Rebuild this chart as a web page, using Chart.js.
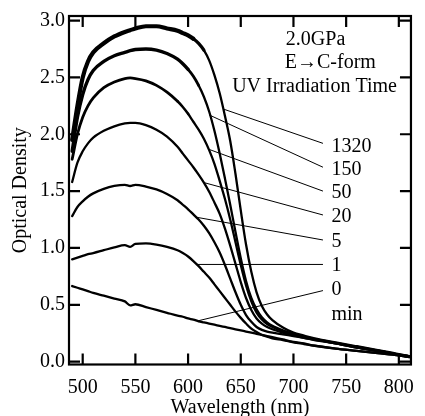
<!DOCTYPE html>
<html>
<head>
<meta charset="utf-8">
<script src="https://cdn.jsdelivr.net/npm/chart.js@4"></script>
<style>
html,body{margin:0;padding:0;background:#fff;}
canvas{display:block;}
</style>
</head>
<body>
<canvas id="c" width="425" height="416"></canvas>
<script>
// ---- data ----
const wavelength = [490,495,500,505,510,520,530,540,545,550,560,570,580,590,595,600,605,610,615,620,625,630,635,640,645,650,655,660,665,670,675,680,690,700,710,720,740,760,780,800,810];

const od0    = [0.665,0.65,0.635,0.62,0.605,0.58,0.555,0.53,0.495,0.505,0.48,0.455,0.43,0.405,0.395,0.38,0.37,0.355,0.345,0.335,0.325,0.315,0.305,0.295,0.285,0.275,0.265,0.255,0.245,0.235,0.225,0.215,0.195,0.175,0.16,0.14,0.115,0.095,0.075,0.055,0.04];
const od1    = [0.90,0.915,0.93,0.945,0.955,0.98,1.005,1.025,1.01,1.035,1.04,1.03,1.01,0.98,0.955,0.925,0.885,0.84,0.79,0.74,0.68,0.62,0.56,0.50,0.44,0.385,0.335,0.29,0.26,0.235,0.22,0.205,0.19,0.17,0.155,0.14,0.115,0.095,0.075,0.055,0.04];
const od5    = [1.28,1.36,1.41,1.45,1.48,1.52,1.545,1.555,1.545,1.555,1.54,1.515,1.475,1.42,1.38,1.34,1.295,1.25,1.195,1.13,1.05,0.96,0.85,0.73,0.61,0.50,0.41,0.35,0.305,0.28,0.265,0.255,0.24,0.225,0.21,0.19,0.16,0.125,0.095,0.06,0.045];
const od20   = [1.58,1.75,1.85,1.92,1.97,2.03,2.07,2.095,2.10,2.10,2.08,2.04,1.98,1.89,1.83,1.77,1.71,1.645,1.575,1.495,1.40,1.30,1.17,1.02,0.86,0.70,0.56,0.455,0.38,0.335,0.305,0.285,0.255,0.23,0.21,0.195,0.16,0.125,0.095,0.06,0.045];
const od50   = [1.78,2.0,2.15,2.25,2.32,2.41,2.46,2.49,2.495,2.49,2.47,2.43,2.37,2.29,2.24,2.18,2.11,2.04,1.96,1.86,1.74,1.59,1.43,1.25,1.05,0.85,0.67,0.53,0.43,0.37,0.33,0.305,0.265,0.235,0.215,0.195,0.16,0.125,0.095,0.06,0.045];
const od150  = [1.85,2.15,2.35,2.48,2.56,2.64,2.69,2.72,2.735,2.745,2.75,2.74,2.71,2.66,2.62,2.57,2.51,2.43,2.33,2.2,2.03,1.83,1.61,1.38,1.14,0.91,0.71,0.56,0.46,0.39,0.345,0.315,0.275,0.245,0.22,0.2,0.165,0.13,0.095,0.06,0.045];
const od1320 = [1.95,2.25,2.5,2.64,2.72,2.8,2.86,2.9,2.915,2.93,2.95,2.95,2.93,2.91,2.89,2.87,2.84,2.8,2.74,2.65,2.52,2.36,2.16,1.94,1.65,1.33,1.03,0.79,0.61,0.49,0.415,0.365,0.3,0.255,0.23,0.205,0.17,0.135,0.1,0.065,0.045];

const seriesNames  = ['1320','150','50','20','5','1','0'];
const seriesValues = [od1320, od150, od50, od20, od5, od1, od0];
const noisyUntil   = [615, 610, 600, 0, 0, 0, 0];   // wavelength up to which the trace looks noisy/thick
const noisyPeak    = [4.2, 3.4, 2.8, 2.3, 2.3, 2.3, 2.3];

const labelX     = 736;
const labelY     = [1.894, 1.689, 1.486, 1.275, 1.055, 0.844, 0.633];
const unitLabel  = 'min';
const unitLabelY = 0.413;

const leaderFromX = 728;
const leaderFromY = [1.92, 1.71, 1.50, 1.29, 1.07, 0.855, 0.625];
const leaderToX   = [634, 620, 619, 615, 608, 608, 609];
const leaderToY   = [2.22, 2.17, 1.87, 1.575, 1.27, 0.855, 0.358];

const noteLines = ['2.0GPa', 'E\u2192C-form', 'UV Irradiation Time'];
const noteX     = [721, 735, 720];
const noteY     = [2.83, 2.625, 2.415];

const xTickValues = [500,550,600,650,700,750,800];
const yTickValues = [0,0.5,1,1.5,2,2.5,3];

const FONT = '"Liberation Serif", "Times New Roman", serif';

// ---- datasets ----
const datasets = [];
seriesValues.forEach((vals, i) => {
  const lim = noisyUntil[i];
  const wMax = noisyPeak[i];
  datasets.push({
    label: seriesNames[i],
    data: wavelength.map((w, k) => ({x: w, y: vals[k]})),
    borderColor: '#000',
    borderWidth: 2.3,
    pointRadius: 0,
    fill: false,
    cubicInterpolationMode: 'monotone',
    borderJoinStyle: 'round',
    borderCapStyle: 'round',
    segment: {
      borderWidth: c => {
        const x0 = c.p0.parsed.x;
        if (x0 >= 750 && i < 3) return 2.8;
        if (x0 < lim - 10) return wMax;
        if (x0 < lim) return (wMax + 2.3) / 2;
        return 2.3;
      }
    }
  });
});
seriesNames.forEach((n, i) => {
  datasets.push({
    label: 'leader ' + n,
    data: [{x: leaderFromX, y: leaderFromY[i]}, {x: leaderToX[i], y: leaderToY[i]}],
    borderColor: '#000',
    borderWidth: 1,
    pointRadius: 0,
    tension: 0,
    fill: false
  });
});

const framePlugin = {
  id: 'frame',
  afterDatasetsDraw(chart) {
    const {ctx, chartArea: a, scales: {x, y}} = chart;
    const tl = 11;
    ctx.save();
    ctx.strokeStyle = '#000';
    ctx.lineWidth = 2.2;
    ctx.strokeRect(a.left, a.top, a.right - a.left, a.bottom - a.top);
    ctx.beginPath();
    x.ticks.forEach(t => {
      const px = x.getPixelForValue(t.value);
      ctx.moveTo(px, a.bottom); ctx.lineTo(px, a.bottom - tl);
      ctx.moveTo(px, a.top);    ctx.lineTo(px, a.top + tl);
    });
    y.ticks.forEach(t => {
      const py = y.getPixelForValue(t.value);
      ctx.moveTo(a.left, py);  ctx.lineTo(a.left + tl, py);
      ctx.moveTo(a.right, py); ctx.lineTo(a.right - tl, py);
    });
    ctx.stroke();

    ctx.fillStyle = '#000';
    ctx.font = '20px ' + FONT;
    ctx.textBaseline = 'middle';
    ctx.textAlign = 'center';
    noteLines.forEach((s, i) => {
      ctx.fillText(s, x.getPixelForValue(noteX[i]), y.getPixelForValue(noteY[i]));
    });
    ctx.textAlign = 'left';
    seriesNames.forEach((s, i) => {
      ctx.fillText(s, x.getPixelForValue(labelX), y.getPixelForValue(labelY[i]));
    });
    ctx.fillText(unitLabel, x.getPixelForValue(labelX), y.getPixelForValue(unitLabelY));
    ctx.restore();
  }
};

new Chart(document.getElementById('c'), {
  type: 'line',
  data: {datasets},
  options: {
    responsive: false,
    animation: false,
    events: [],
    layout: {padding: {left: 0, right: 4.5, top: 16, bottom: 0}},
    plugins: {legend: {display: false}, tooltip: {enabled: false}},
    scales: {
      x: {
        type: 'linear',
        min: 487, max: 811.5,
        afterBuildTicks: s => { s.ticks = xTickValues.map(v => ({value: v})); },
        afterFit: s => { s.height = 51.5; },
        grid: {display: false, drawTicks: false},
        border: {display: false},
        ticks: {color: '#000', font: {family: FONT, size: 20}, padding: 11, maxRotation: 0, autoSkip: false},
        title: {display: true, text: 'Wavelength (nm)', color: '#000', font: {family: FONT, size: 20}, padding: {top: 0, bottom: -4}}
      },
      y: {
        type: 'linear',
        min: -0.025, max: 3.04,
        afterBuildTicks: s => { s.ticks = yTickValues.map(v => ({value: v})); },
        afterFit: s => { s.width = 69; },
        grid: {display: false, drawTicks: false},
        border: {display: false},
        ticks: {color: '#000', font: {family: FONT, size: 20}, padding: 4, callback: v => Number(v).toFixed(1)},
        title: {display: true, text: 'Optical Density', color: '#000', font: {family: FONT, size: 20}, padding: {top: 9, bottom: 0}}
      }
    }
  },
  plugins: [framePlugin]
});
</script>
</body>
</html>
